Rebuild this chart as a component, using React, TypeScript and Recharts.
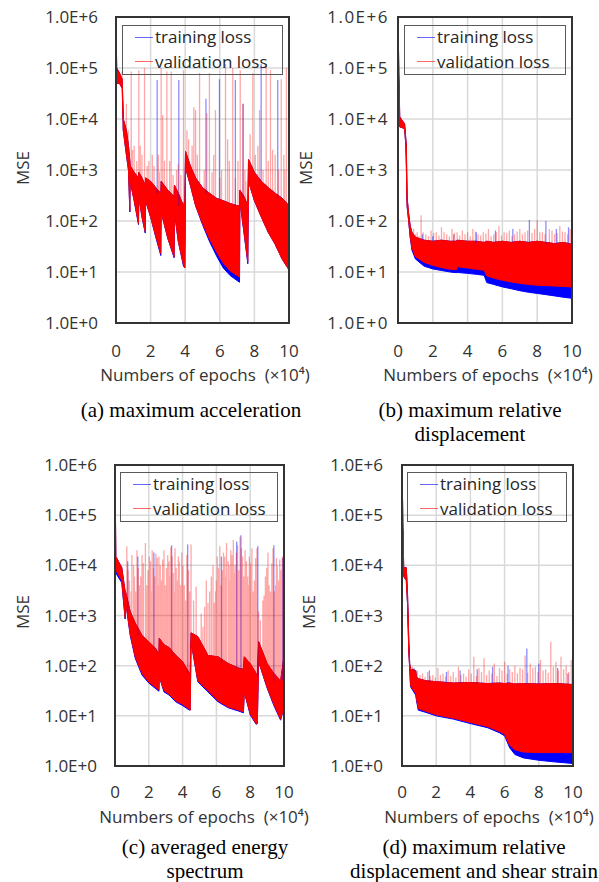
import { Area, CartesianGrid, ComposedChart, Line, XAxis, YAxis } from "recharts"

/* ---------- axes ---------- */

const yTicks = [1, 10, 100, 1e3, 1e4, 1e5, 1e6]
const xTicks = [0, 2, 4, 6, 8, 10]

/* ---------- (a) maximum acceleration ---------- */

const epochA = [0, 0.04, 0.2, 0.36, 0.42, 0.6, 0.72, 0.8, 0.82, 1.05, 1.3, 1.32, 1.5, 1.69, 1.71, 2.0, 2.3, 2.59, 2.61, 3.0, 3.36, 3.38, 3.6, 3.9, 3.98, 4.02, 4.3, 4.6, 5.0, 5.4, 5.8, 6.2, 6.6, 7.0, 7.14, 7.16, 7.4, 7.62, 7.66, 8.0, 8.4, 8.8, 9.2, 9.6, 10]
const valLowA = [6e4, 5e4, 5e4, 4e4, 6e3, 2e3, 1e3, 160, 600, 250, 90, 300, 120, 62, 250, 120, 50, 23, 150, 45, 20, 150, 40, 14, 12, 1100, 500, 200, 90, 45, 25, 15, 10.5, 8.5, 8, 250, 60, 16, 600, 250, 120, 60, 35, 18, 11]
const valHighA = [1e6, 1e5, 8e4, 6e4, 1e4, 6e3, 3e3, 1.5e3, 1.2e3, 900, 700, 900, 700, 500, 700, 600, 450, 350, 600, 400, 300, 500, 350, 200, 250, 2300, 1200, 700, 450, 350, 280, 250, 220, 200, 200, 400, 300, 200, 1600, 900, 600, 450, 350, 280, 200]
const trainLowA = [6e4, 5e4, 5e4, 4e4, 6e3, 2e3, 1e3, 150, 600, 250, 85, 300, 120, 58, 250, 120, 48, 21, 150, 45, 19, 150, 40, 13, 12, 1100, 500, 200, 85, 40, 21, 12, 8.5, 6.8, 6.3, 250, 58, 14.5, 600, 250, 120, 60, 35, 18, 11]
const valSpikesA = [
  [0.35, 8.5e4], [0.5, 9e3], [0.6, 2e4], [0.7, 6e3], [0.88, 8.5e4], [0.95, 2.5e3], [1.05, 3e3], [1.2, 1.5e3], [1.32, 9e4], [1.4, 3e3],
  [1.5, 2e3], [1.65, 1e5], [1.8, 1.2e3], [1.9, 1.5e3], [2.1, 2e3], [2.2, 1.2e3], [2.45, 2e3], [2.5, 900], [2.61, 1e5], [2.7, 1.2e4],
  [2.8, 1.5e3], [2.94, 8.5e4], [3.1, 1.5e3], [3.19, 8.5e4], [3.3, 800], [3.5, 1e3], [3.6, 1.3e3], [3.75, 800], [3.9, 9e4], [4.1, 6e3],
  [4.2, 4e3], [4.4, 3e3], [4.5, 1.7e4], [4.6, 1.5e4], [4.7, 2e3], [4.83, 8e4], [5.1, 1e3], [5.25, 1.3e4], [5.4, 8e4], [5.55, 900],
  [5.65, 2e3], [5.75, 1.5e4], [6.0, 700], [6.1, 1e3], [6.33, 1.2e5], [6.45, 4e3], [6.55, 1.5e3], [6.75, 1e5], [6.9, 700], [7.05, 1.5e3],
  [7.18, 9e4], [7.33, 2e4], [7.45, 1e3], [7.5, 600], [7.75, 5e3], [7.91, 8e4], [8.05, 2e3], [8.2, 3e3], [8.3, 1.5e4], [8.5, 1e3],
  [8.68, 1.2e5], [8.8, 1.5e3], [8.93, 9e4], [9.05, 2.5e3], [9.2, 2e3], [9.4, 1e3], [9.55, 6e4], [9.7, 2e3], [9.75, 1e3], [9.85, 1e5],
]
const trainSpikesA = [[0.05, 1e5], [2.38, 5.8e4], [3.63, 5.8e4], [5.2, 2.5e4], [5.98, 6e4], [6.9, 5.8e4], [7.35, 2e4], [8.39, 1.2e5], [9.35, 5.8e4], [9.98, 1.2e3]]

/* ---------- (b) maximum relative displacement ---------- */

const epochB = [0, 0.05, 0.1, 0.38, 0.45, 0.48, 0.52, 0.6, 0.7, 0.8, 1, 1.5, 2, 2.5, 3, 3.35, 3.4, 4, 4.5, 4.95, 5.1, 5.5, 6, 6.5, 7, 7.5, 8, 8.5, 9, 9.5, 10]
const valLowB = [1e5, 5e4, 7e3, 6.5e3, 3e3, 1.2e3, 200, 110, 50, 30, 20, 15.5, 13.5, 12.2, 11.3, 11, 12.7, 12, 11.3, 10.8, 8.4, 7.6, 6.9, 6.4, 6.0, 5.7, 5.5, 5.4, 5.3, 5.2, 5.1]
const valHighB = [1e6, 8e4, 1.1e4, 8e3, 4e3, 3e3, 300, 150, 80, 60, 48, 42, 40, 42, 40, 40, 42, 40, 40, 38, 40, 38, 40, 38, 40, 38, 40, 38, 36, 38, 35]
const trainLowB = [1e5, 5e4, 7e3, 6.5e3, 3e3, 1.2e3, 200, 110, 48, 27, 18, 13, 11.5, 10.7, 10, 9.7, 9.8, 9.4, 9, 8.6, 6.2, 5.7, 5.1, 4.7, 4.3, 4.0, 3.8, 3.6, 3.4, 3.2, 3.05]
const valSpikesB = [
  [0.8, 60], [0.9, 70], [1.0, 55], [1.1, 60], [1.2, 50], [1.33, 130], [1.45, 60], [1.6, 55], [1.75, 50], [1.9, 65],
  [2.05, 58], [2.2, 60], [2.35, 52], [2.5, 75], [2.65, 60], [2.8, 55], [2.95, 50], [3.1, 70], [3.25, 58], [3.4, 60],
  [3.55, 52], [3.7, 65], [3.85, 55], [4.0, 60], [4.15, 50], [4.3, 70], [4.45, 62], [4.6, 55], [4.75, 52], [4.9, 60],
  [5.05, 56], [5.2, 70], [5.35, 50], [5.5, 55], [5.65, 60], [5.8, 80], [5.95, 52], [6.1, 60], [6.25, 58], [6.4, 65],
  [6.55, 50], [6.7, 55], [6.85, 62], [7.0, 70], [7.15, 55], [7.3, 60], [7.45, 65], [7.7, 58], [7.85, 70], [8.0, 105],
  [8.15, 60], [8.3, 60], [8.45, 55], [8.7, 70], [8.85, 65], [9.0, 55], [9.15, 58], [9.3, 80], [9.45, 62], [9.6, 60],
  [9.75, 55], [9.9, 70],
]
const trainSpikesB = [[1.4, 55], [2.0, 50], [3.2, 55], [4.5, 60], [5.6, 65], [6.6, 70], [7.55, 105], [8.5, 100], [9.1, 70], [9.8, 75]]

/* ---------- (c) averaged energy spectrum ---------- */

const epochC = [0, 0.05, 0.4, 0.6, 0.62, 0.9, 1.2, 1.6, 2.0, 2.4, 2.6, 2.62, 2.9, 3.2, 3.6, 4.0, 4.4, 4.45, 4.5, 4.9, 5.5, 6.1, 6.7, 7.3, 7.6, 7.65, 8.0, 8.35, 8.42, 8.5, 9.0, 9.4, 9.8, 10]
const valLowC = [1e4, 8e3, 5e3, 900, 2e3, 430, 150, 70, 47, 37, 33, 60, 32, 27, 20, 17, 13.5, 13, 300, 50, 32, 20, 15, 13, 12, 30, 11, 7, 7, 120, 37, 17, 8.5, 15]
const valHighC = [1e6, 1.5e4, 9e3, 3e3, 3e3, 1.2e3, 700, 400, 300, 220, 170, 350, 260, 230, 160, 120, 70, 68, 450, 380, 160, 150, 110, 90, 85, 150, 110, 70, 60, 300, 110, 70, 50, 150]
const trainLowC = [1e4, 7e3, 4.5e3, 850, 2e3, 400, 140, 65, 45, 35, 31, 60, 30, 26, 19, 16, 13, 13, 300, 48, 30, 19, 14.5, 12.5, 11.5, 30, 10.5, 6.8, 7, 120, 36, 16, 8.2, 15]
const valSpikesC = [
  [0.7, 2.4e4], [0.78, 8e3], [0.85, 5e3], [0.95, 3e3], [1.0, 1.6e4], [1.1, 1e4], [1.15, 6e3], [1.22, 3e3], [1.3, 2e4], [1.38, 9e3],
  [1.45, 4e3], [1.52, 6e3], [1.6, 1.6e4], [1.68, 1.1e4], [1.8, 2.8e4], [1.88, 4e3], [1.95, 8e3], [2.03, 1.5e4], [2.1, 1.2e4], [2.15, 3e3],
  [2.2, 2e4], [2.28, 9e3], [2.35, 6e3], [2.42, 1.7e4], [2.5, 1.4e4], [2.55, 4e3], [2.6, 1.5e4], [2.68, 1e4], [2.75, 5e3], [2.82, 1.3e4],
  [2.9, 2e4], [2.97, 4e3], [3.05, 9e3], [3.12, 1.6e4], [3.2, 1.2e4], [3.25, 6e3], [3.3, 2.3e4], [3.38, 1.5e4], [3.45, 7e3], [3.5, 3e3],
  [3.55, 2.2e4], [3.62, 9e3], [3.7, 5e3], [3.75, 1.5e4], [3.8, 1.2e4], [3.88, 4e3], [3.95, 1.8e4], [4.02, 1e4], [4.1, 4e3], [4.18, 2e3],
  [4.25, 1.6e4], [4.35, 8e3], [4.42, 3e3], [4.5, 2.6e4], [4.65, 2e3], [4.8, 3.8e3], [5.1, 1.1e3], [5.2, 600], [5.3, 1.5e3], [5.4, 5e3],
  [5.5, 1.8e3], [5.6, 3e3], [5.7, 6e3], [5.8, 1e4], [5.88, 1.8e3], [5.95, 3e3], [6.0, 5e3], [6.05, 1.5e4], [6.12, 9e3], [6.2, 2.4e4],
  [6.28, 4e3], [6.35, 8e3], [6.42, 1.8e4], [6.5, 1.5e4], [6.55, 6e3], [6.6, 2.8e4], [6.7, 1.2e4], [6.75, 1e4], [6.8, 5e3], [6.85, 2e4],
  [6.92, 1.6e4], [7.0, 3.2e4], [7.05, 7e3], [7.1, 1e4], [7.18, 1.8e4], [7.25, 2.5e4], [7.32, 8e3], [7.4, 3.7e4], [7.48, 2.2e4], [7.55, 1.5e4],
  [7.62, 6e3], [7.7, 2e4], [7.78, 1.2e4], [7.85, 6e3], [7.9, 4e3], [7.95, 1.5e4], [8.02, 1.1e4], [8.1, 2.2e4], [8.18, 3e3], [8.25, 5e3],
  [8.32, 1.4e4], [8.4, 2.2e4], [8.5, 1.2e3], [8.6, 800], [8.75, 2e3], [8.82, 2.5e3], [8.9, 6e3], [8.98, 9e3], [9.05, 1.8e4], [9.12, 4e3],
  [9.2, 3e3], [9.28, 1.1e4], [9.35, 2.2e4], [9.42, 3e3], [9.5, 4e3], [9.55, 1.4e4], [9.6, 1e4], [9.68, 5e3], [9.75, 1.3e4], [9.82, 8e3],
  [9.9, 1.5e4],
]
const trainSpikesC = [[0.75, 1.2e4], [1.35, 1.5e4], [2.3, 1.8e4], [3.35, 2.5e4], [4.3, 2.6e4], [6.3, 1.5e4], [7.2, 3e4], [7.45, 4e4], [8.45, 2.4e4], [9.4, 2.5e4], [9.92, 1.4e4]]

/* ---------- (d) maximum relative displacement and shear strain ---------- */

const epochD = [0, 0.05, 0.1, 0.25, 0.32, 0.4, 0.45, 0.5, 0.8, 0.85, 0.95, 1.4, 2, 3, 4, 5, 5.7, 6, 6.3, 6.6, 7.1, 8, 9, 10]
const valLowD = [6e4, 5e4, 6e3, 5e3, 1.8e3, 180, 90, 40, 28, 22, 14, 12.3, 10.5, 9, 7.4, 6.1, 4.9, 4.3, 2.6, 2.1, 1.9, 1.85, 1.85, 1.85]
const valHighD = [1e6, 8e4, 9e3, 9e3, 3e3, 300, 110, 85, 80, 60, 55, 50, 48, 45, 46, 44, 45, 44, 45, 43, 44, 43, 44, 42]
const trainLowD = [6e4, 5e4, 6e3, 5e3, 1.8e3, 180, 88, 38, 26, 20, 13, 11.7, 10, 8.6, 7.0, 5.8, 4.6, 4.0, 2.3, 1.7, 1.45, 1.3, 1.2, 1.12]
const valSpikesD = [
  [0.6, 95], [0.75, 70], [0.9, 80], [1.05, 65], [1.2, 70], [1.35, 60], [1.5, 75], [1.65, 62], [1.8, 65], [1.95, 58],
  [2.1, 90], [2.25, 65], [2.4, 70], [2.55, 60], [2.7, 80], [2.85, 62], [3.0, 75], [3.15, 58], [3.3, 95], [3.45, 66],
  [3.6, 70], [3.75, 60], [3.9, 85], [4.05, 70], [4.2, 150], [4.35, 62], [4.5, 90], [4.65, 75], [4.8, 140], [4.95, 65],
  [5.1, 80], [5.25, 70], [5.4, 110], [5.55, 62], [5.7, 90], [5.85, 80], [6.0, 120], [6.15, 68], [6.3, 85], [6.45, 75],
  [6.6, 100], [6.75, 70], [6.9, 90], [7.05, 85], [7.2, 160], [7.35, 72], [7.5, 110], [7.65, 90], [7.8, 95], [7.95, 75],
  [8.1, 130], [8.25, 80], [8.4, 85], [8.55, 72], [8.7, 300], [8.85, 95], [9.0, 120], [9.15, 80], [9.3, 150], [9.45, 85],
  [9.6, 100], [9.75, 75], [9.9, 130],
]
const trainSpikesD = [[0.7, 90], [1.6, 80], [2.6, 75], [3.4, 80], [4.4, 85], [5.3, 95], [6.2, 100], [7.3, 220], [8.0, 110], [9.1, 90], [9.7, 70]]

const legendItems = [
  { label: "training loss", color: "#0000ff" },
  { label: "validation loss", color: "#ff0000" },
]

const FONT = "'Open Sans', 'Noto Sans', sans-serif"
const SERIF = "'Liberation Serif', 'DejaVu Serif', serif"

function bandRows(epochs: number[], low: number[], high: number[]) {
  return epochs.map((x, i) => ({ x, band: [low[i], high[i]] }))
}

// each spike is a vertical segment from the top edge of the band to its peak
function spikeRows(spikes: number[][], epochs: number[], high: number[]) {
  return spikes.flatMap(([x, top]) => {
    let i = 0
    while (i < epochs.length - 2 && epochs[i + 1] <= x) i++
    const base = Math.min(high[i], high[i + 1])
    return [{ x, y: base }, { x, y: top }, { x, y: null }]
  })
}

type Plot = { left: number; top: number; width: number; height: number }

function Panel({
  plot,
  epochs,
  valLow,
  valHigh,
  trainLow,
  valSpikes,
  trainSpikes,
  yGap,
  ySpacing = 0,
  xGap,
}: {
  plot: Plot
  epochs: number[]
  valLow: number[]
  valHigh: number[]
  trainLow: number[]
  valSpikes: number[][]
  trainSpikes: number[][]
  yGap: number
  ySpacing?: number
  xGap: number
}) {
  const padL = 110
  const padT = 20
  const padR = 10
  const padB = 45
  const w = plot.width + padL + padR
  const h = plot.height + padT + padB
  return (
    <>
      <div style={{ position: "absolute", left: plot.left - padL, top: plot.top - padT, width: w, height: h }}>
        <ComposedChart width={w} height={h} margin={{ top: padT, right: padR, left: 0, bottom: 0 }}>
          <CartesianGrid stroke="#d9d9d9" strokeWidth={1.5} />
          <XAxis
            type="number"
            dataKey="x"
            domain={[0, 10]}
            ticks={xTicks}
            allowDataOverflow
            height={padB}
            axisLine={false}
            tickLine={false}
            tickSize={0}
            tickMargin={xGap}
            tick={{ fontSize: 17, fill: "#333", fontFamily: FONT }}
          />
          <YAxis
            type="number"
            scale="log"
            domain={[1, 1e6]}
            ticks={yTicks}
            allowDataOverflow
            width={padL}
            axisLine={false}
            tickLine={false}
            tickSize={0}
            tickMargin={yGap}
            tickFormatter={(v: number) => `1.0E+${Math.round(Math.log10(v))}`}
            tick={{ fontSize: 17, fill: "#333", fontFamily: FONT, letterSpacing: ySpacing }}
          />
          <Area
            data={bandRows(epochs, trainLow, valHigh)}
            dataKey="band"
            type="linear"
            fill="#0000ff"
            fillOpacity={1}
            stroke="#0000ff"
            strokeWidth={1}
            dot={false}
            activeDot={false}
            isAnimationActive={false}
          />
          <Area
            data={bandRows(epochs, valLow, valHigh)}
            dataKey="band"
            type="linear"
            fill="#ff0000"
            fillOpacity={1}
            stroke="#ff0000"
            strokeWidth={1}
            dot={false}
            activeDot={false}
            isAnimationActive={false}
          />
          <Line
            data={spikeRows(trainSpikes, epochs, valHigh)}
            dataKey="y"
            type="linear"
            stroke="#0000ff"
            strokeOpacity={0.45}
            strokeWidth={1.3}
            dot={false}
            activeDot={false}
            isAnimationActive={false}
          />
          <Line
            data={spikeRows(valSpikes, epochs, valHigh)}
            dataKey="y"
            type="linear"
            stroke="#ff0000"
            strokeOpacity={0.35}
            strokeWidth={1.3}
            dot={false}
            activeDot={false}
            isAnimationActive={false}
          />
        </ComposedChart>
      </div>
      <div
        style={{
          position: "absolute",
          left: plot.left - 1,
          top: plot.top - 1,
          width: plot.width + 2,
          height: plot.height + 2,
          border: "2px solid #333",
          boxSizing: "border-box",
        }}
      />
    </>
  )
}

function LegendBox({ left, top, width }: { left: number; top: number; width: number }) {
  return (
    <div
      style={{
        position: "absolute",
        left,
        top,
        width,
        height: 50,
        border: "1.5px solid #595959",
        boxSizing: "border-box",
        fontFamily: FONT,
        fontSize: 17,
        color: "#262626",
      }}
    >
      {legendItems.map((item, i) => (
        <div
          key={item.label}
          style={{ position: "absolute", left: 12, top: -1 + i * 24.5, height: 24, display: "flex", alignItems: "center", whiteSpace: "nowrap" }}
        >
          <span style={{ width: 18, height: 1, background: item.color, opacity: 0.6, marginRight: 2 }} />
          <span style={{ lineHeight: "24px" }}>{item.label}</span>
        </div>
      ))}
    </div>
  )
}

function Label({ x, y, text, rotate = false }: { x: number; y: number; text: string; rotate?: boolean }) {
  return (
    <div
      style={{
        position: "absolute",
        left: x - 150,
        top: y - 12,
        width: 300,
        height: 24,
        lineHeight: "24px",
        textAlign: "center",
        fontFamily: FONT,
        fontSize: 17,
        color: "#333",
        whiteSpace: "pre",
        transform: rotate ? "rotate(-90deg)" : undefined,
      }}
    >
      {text}
    </div>
  )
}

function Caption({ x, y, lines }: { x: number; y: number; lines: string[] }) {
  return (
    <div
      style={{
        position: "absolute",
        left: x - 200,
        top: y - 12,
        width: 400,
        lineHeight: "24px",
        textAlign: "center",
        fontFamily: SERIF,
        fontSize: 21,
        color: "#000",
        whiteSpace: "nowrap",
      }}
    >
      {lines.map((l) => (
        <div key={l}>{l}</div>
      ))}
    </div>
  )
}

const xLabel = "Numbers of epochs  (×10⁴)"

export default function App() {
  return (
    <div style={{ position: "absolute", left: 0, top: 0, width: 599, height: 882, background: "#fff", overflow: "hidden" }}>
      <Panel plot={{ left: 116, top: 17, width: 173, height: 306 }} epochs={epochA} valLow={valLowA} valHigh={valHighA} trainLow={trainLowA} valSpikes={valSpikesA} trainSpikes={trainSpikesA} yGap={18} xGap={22} />
      <Panel plot={{ left: 398, top: 17, width: 174, height: 306 }} epochs={epochB} valLow={valLowB} valHigh={valHighB} trainLow={trainLowB} valSpikes={valSpikesB} trainSpikes={trainSpikesB} yGap={9} ySpacing={1.5} xGap={22} />
      <Panel plot={{ left: 115, top: 465, width: 169, height: 301 }} epochs={epochC} valLow={valLowC} valHigh={valHighC} trainLow={trainLowC} valSpikes={valSpikesC} trainSpikes={trainSpikesC} yGap={18} xGap={20} />
      <Panel plot={{ left: 402, top: 465, width: 171, height: 301 }} epochs={epochD} valLow={valLowD} valHigh={valHighD} trainLow={trainLowD} valSpikes={valSpikesD} trainSpikes={trainSpikesD} yGap={19} xGap={20} />

      <LegendBox left={122} top={25} width={161} />
      <LegendBox left={404} top={25} width={162} />
      <LegendBox left={120} top={472} width={158} />
      <LegendBox left={407} top={472} width={160} />

      <Label x={23} y={168} text="MSE" rotate />
      <Label x={306} y={168} text="MSE" rotate />
      <Label x={23} y={612} text="MSE" rotate />
      <Label x={309} y={612} text="MSE" rotate />

      <Label x={205} y={375} text={xLabel} />
      <Label x={488} y={375} text={xLabel} />
      <Label x={204} y={817} text={xLabel} />
      <Label x={489} y={817} text={xLabel} />

      <Caption x={191} y={410} lines={["(a) maximum acceleration"]} />
      <Caption x={470} y={410} lines={["(b) maximum relative", "displacement"]} />
      <Caption x={205} y={847} lines={["(c) averaged energy", "spectrum"]} />
      <Caption x={474} y={847} lines={["(d) maximum relative", "displacement and shear strain"]} />
    </div>
  )
}
